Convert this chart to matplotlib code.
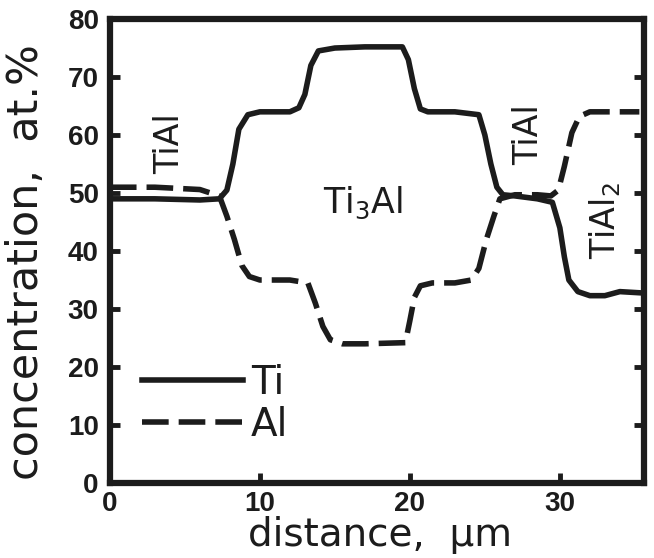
import matplotlib.pyplot as plt

# Ti (solid) and Al (dashed) concentration profiles
ti_x = [0, 3, 6, 7.3, 7.8, 8.2, 8.6, 9.2, 10, 12, 12.6, 13.0, 13.4, 13.9, 15, 17, 19.5,
        19.9, 20.3, 20.7, 21.2, 23, 24.6, 25.0, 25.4, 25.8, 26.2, 27, 28.5, 29.5, 30.0,
        30.3, 30.6, 31.2, 32, 33, 34, 35.3]
ti_y = [49, 49, 48.8, 49, 50.5, 55, 61, 63.5, 64, 64, 64.7, 67, 72, 74.5, 75, 75.2, 75.2,
        73, 68, 64.5, 64, 64, 63.5, 60, 55, 51, 49.7, 49.5, 49, 48.4, 44, 39, 35, 33,
        32.3, 32.3, 33, 32.8]

al_x = [0, 3, 6, 7.3, 7.8, 8.3, 8.8, 9.3, 10, 12, 13.2, 13.7, 14.2, 14.7, 15.5, 17, 19.7,
        20.0, 20.3, 20.7, 21.5, 23, 24.1, 24.6, 25.1, 25.6, 26.0, 27, 28.5, 29.4, 29.9,
        30.3, 30.8, 31.3, 32, 34, 35.3]
al_y = [51, 51, 50.6, 49.5, 46, 42, 37.5, 35.6, 35, 35, 34.5, 31, 27, 24.7, 24, 24, 24.2,
        28, 32, 34, 34.5, 34.5, 35, 37, 42, 46, 49, 49.7, 49.7, 49.5, 50.5, 54.6, 60.4,
        63.2, 64, 64, 64]

xticks = [0, 10, 20, 30]
yticks = [0, 10, 20, 30, 40, 50, 60, 70, 80]

ink = '#1c1c1c'
plt.rcParams['font.family'] = ['Liberation Sans', 'DejaVu Sans']
plt.rcParams['mathtext.default'] = 'regular'

fig = plt.figure(figsize=(6.54, 5.58), dpi=100)
ax = fig.add_axes([0.168, 0.1344, 0.8165, 0.8315])

ax.plot(ti_x, ti_y, '-', color=ink, linewidth=4, label='Ti')
ax.plot(al_x, al_y, '--', color=ink, linewidth=4, dashes=(4.8, 1.8), label='Al')

ax.set_xlim(0, 35.6)
ax.set_ylim(0, 80)
ax.set_xticks(xticks)
ax.set_yticks(yticks)
ax.tick_params(direction='in', length=7, width=3.5, labelsize=20, right=True, colors=ink)
ax.tick_params(axis='x', pad=6)
ax.tick_params(axis='y', pad=8)
for lab in ax.get_xticklabels() + ax.get_yticklabels():
    lab.set_fontweight('bold')
for s in ax.spines.values():
    s.set_linewidth(4.5)
    s.set_color(ink)

lab_font = ['DejaVu Sans']
ax.set_xlabel('distance,  \u03bcm', fontsize=28, family=lab_font, color=ink)
ax.xaxis.set_label_coords(0.506, -0.072)
ax.set_ylabel('concentration,  at.%', fontsize=31, family=lab_font, color=ink)
ax.yaxis.set_label_coords(-0.118, 0.476)

# phase labels
ax.text(4.0, 58.6, 'TiAl', rotation=90, fontsize=24, ha='center', va='center',
        family=lab_font, color=ink)
ax.text(16.9, 46.6, 'Ti$_3$Al', fontsize=25, ha='center', va='baseline',
        family=lab_font, color=ink)
ax.text(27.9, 60, 'TiAl', rotation=90, fontsize=24, ha='center', va='center',
        family=lab_font, color=ink)
ax.text(33.0, 45.3, 'TiAl$_2$', rotation=90, fontsize=24, ha='center', va='center',
        family=lab_font, color=ink)

leg = ax.legend(loc='lower left', bbox_to_anchor=(0.06, 0.085), frameon=False,
                prop={'family': lab_font, 'size': 28}, borderpad=0, borderaxespad=0,
                handlelength=2.6, handletextpad=0.2, labelspacing=0.1)
for t in leg.get_texts():
    t.set_color(ink)

plt.savefig('out.png', dpi=100)
